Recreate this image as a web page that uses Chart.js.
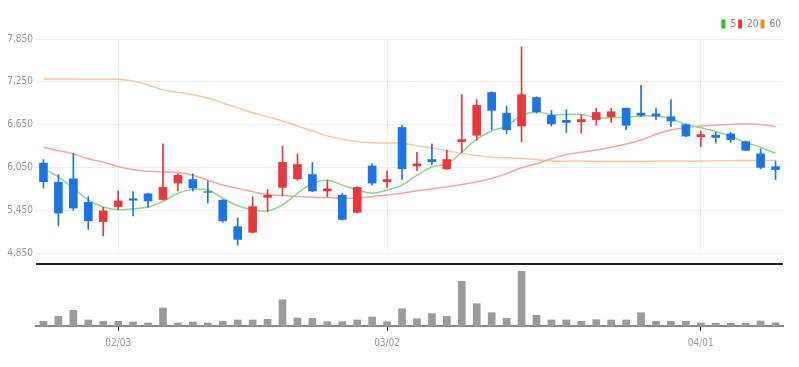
<!DOCTYPE html>
<html>
<head>
<meta charset="utf-8">
<script src="https://cdn.jsdelivr.net/npm/chart.js@4.4.1/dist/chart.umd.min.js"></script>
<style>
  body { margin: 0; background: #fff; }
  #wrap { position: relative; width: 799px; height: 367px; background: #fff; }
  #price { position: absolute; left: 0; top: 0; }
  #axisLine { position: absolute; left: 36px; top: 263px; width: 747px; height: 2px; background: #222; }
  #volume { position: absolute; left: 0; top: 265px; }
</style>
</head>
<body>
<div id="wrap">
  <canvas id="price" width="799" height="262"></canvas>
  <div id="axisLine"></div>
  <canvas id="volume" width="799" height="102"></canvas>
</div>
<script>
// trading days (2022)
const dates = ['01/24','01/25','01/26','01/27','01/28','02/03','02/04','02/07','02/08','02/09',
  '02/10','02/11','02/14','02/15','02/16','02/17','02/18','02/21','02/22','02/23',
  '02/24','02/25','02/28','03/02','03/03','03/04','03/07','03/08','03/10','03/11',
  '03/14','03/15','03/16','03/17','03/18','03/21','03/22','03/23','03/24','03/25',
  '03/28','03/29','03/30','03/31','04/01','04/04','04/05','04/06','04/07','04/08'];
const monthTicks = ['02/03', '03/02', '04/01'];

const opens  = [6110,5840,5890,5560,5290,5500,5610,5680,5600,5830,5880,5710,5590,5220,5140,5630,5770,5890,5950,5720,
                5660,5420,6070,5850,6610,6070,6160,6030,6410,6500,7100,6810,6630,7030,6780,6710,6690,6720,6760,6880,
                6810,6800,6760,6650,6480,6500,6520,6410,6240,6060];
const closes = [5850,5410,5480,5300,5440,5580,5590,5580,5770,5940,5760,5700,5300,5040,5500,5660,6120,6090,5720,5750,
                5320,5770,5830,5880,6030,6100,6130,6160,6440,6920,6850,6580,7070,6830,6660,6680,6720,6820,6830,6640,
                6780,6770,6700,6490,6510,6470,6440,6290,6050,6020];
const highs  = [6160,5950,6250,5640,5490,5720,5710,5690,6380,5960,5960,5860,5600,5340,5640,5740,6350,6240,6120,5870,
                5690,5780,6100,6000,6640,6260,6380,6290,7070,7000,7110,6910,7740,7040,6850,6860,6790,6880,6880,6880,
                7200,6880,7000,6660,6560,6540,6540,6420,6310,6140];
const lows   = [5760,5230,5450,5180,5090,5460,5370,5490,5590,5720,5720,5550,5280,4960,5130,5430,5650,5870,5710,5640,
                5310,5410,5800,5770,5880,6000,6090,6020,6260,6430,6580,6520,6410,6810,6630,6540,6530,6640,6680,6580,
                6760,6720,6620,6480,6340,6390,6400,6290,6030,5880];

const ma5  = [6032,5917,5756,5595,5494,5457,5471,5494,5572,5687,5742,5733,5618,5512,5457,5443,5526,5687,5825,5871,
              5802,5733,5687,5733,5802,5940,6055,6101,6262,6446,6561,6630,6780,6828,6792,6792,6792,6746,6746,6755,
              6769,6769,6732,6653,6607,6552,6483,6400,6331,6248];
const ma20 = [6331,6285,6239,6170,6124,6064,6018,5995,5986,5977,5940,5871,5802,5756,5710,5671,5655,5641,5632,5627,
              5618,5618,5641,5664,5687,5724,5747,5779,5811,5848,5894,5963,6044,6101,6170,6230,6262,6294,6331,6377,
              6433,6515,6575,6607,6630,6640,6653,6663,6653,6621];
const ma60 = [7289,7289,7289,7285,7285,7285,7261,7206,7137,7104,7068,7022,6953,6884,6815,6762,6700,6630,6561,6492,
              6446,6414,6396,6391,6387,6354,6322,6285,6248,6216,6193,6184,6175,6157,6138,6138,6138,6134,6134,6134,
              6134,6138,6138,6138,6138,6143,6143,6147,6147,6147];

// volume, thousand shares
const volumes = [94,194,314,120,94,94,80,60,360,60,80,60,94,120,120,134,526,160,154,86,
                 86,120,180,86,346,146,246,194,894,446,266,154,1094,214,120,120,94,126,120,120,
                 266,94,94,94,60,54,54,54,100,66];

const UP = '#e8383d', DOWN = '#1a76e6';
const font = { size: 10, family: "'Liberation Sans Narrow', 'DejaVu Sans Condensed', 'Roboto Condensed', 'Liberation Sans', Arial, sans-serif" };
const legendColors = ['#2fb92f', '#ee3a3a', '#f0932f'];

const candleColors = closes.map((c, i) => c >= opens[i] ? UP : DOWN);
const bodies = closes.map((c, i) => [opens[i], c]);
const wicks = highs.map((h, i) => [lows[i], h]);

const ctx1 = document.getElementById('price').getContext('2d');
const price = new Chart(ctx1, {
  type: 'bar',
  data: {
    labels: dates,
    datasets: [
      { type: 'line', label: '5', data: ma5, borderColor: '#8fd88a', borderWidth: 1.5, pointRadius: 0, tension: 0.4, order: 2 },
      { type: 'line', label: '20', data: ma20, borderColor: '#f4a5a5', borderWidth: 1.5, pointRadius: 0, tension: 0.4, order: 2 },
      { type: 'line', label: '60', data: ma60, borderColor: '#f8c89c', borderWidth: 1.5, pointRadius: 0, tension: 0.4, order: 2 },
      { label: 'wick', data: wicks, backgroundColor: candleColors, barThickness: 1, grouped: false, order: 1 },
      { label: 'body', data: bodies, backgroundColor: candleColors, barThickness: 8, grouped: false, order: 0 }
    ]
  },
  options: {
    responsive: false,
    animation: false,
    layout: { padding: { top: 17, right: 16, bottom: 5, left: 0 } },
    plugins: {
      legend: {
        position: 'top',
        align: 'end',
        labels: {
          boxWidth: 4, boxHeight: 9, padding: 2, font: font, color: '#888',
          generateLabels: chart => Chart.defaults.plugins.legend.labels.generateLabels(chart)
            .filter(l => l.datasetIndex < 3)
            .map(l => Object.assign(l, { fillStyle: legendColors[l.datasetIndex], strokeStyle: legendColors[l.datasetIndex], lineWidth: 0 }))
        }
      },
      tooltip: { enabled: false }
    },
    scales: {
      x: {
        grid: { offset: false, drawTicks: false, color: c => monthTicks.includes(dates[c.index]) ? '#eeeeee' : 'rgba(0,0,0,0)' },
        ticks: { display: false, autoSkip: false },
        border: { display: false },
        afterFit: s => { s.height = 0; }
      },
      y: {
        min: 4850, max: 7850,
        ticks: { stepSize: 600, padding: 3, color: '#999', font: font, callback: v => v.toLocaleString('en-US') },
        grid: { color: '#eeeeee', drawTicks: false },
        border: { display: false },
        afterFit: s => { s.width = 36; }
      }
    }
  }
});

const ctx2 = document.getElementById('volume').getContext('2d');
const volume = new Chart(ctx2, {
  type: 'bar',
  data: {
    labels: dates,
    datasets: [{ label: 'volume', data: volumes, backgroundColor: '#9b9b9b', barThickness: 7 }]
  },
  options: {
    responsive: false,
    animation: false,
    layout: { padding: { top: 5, right: 16, bottom: 11, left: 36 } },
    plugins: { legend: { display: false }, tooltip: { enabled: false } },
    scales: {
      x: {
        grid: { offset: false, drawOnChartArea: false, tickLength: 5, color: c => monthTicks.includes(dates[c.index]) ? '#333' : 'rgba(0,0,0,0)' },
        border: { color: '#888', width: 2 },
        ticks: { autoSkip: false, maxRotation: 0, padding: 6, color: '#999', font: font,
                 callback: (v, i) => monthTicks.includes(dates[i]) ? dates[i] : '' },
        afterFit: s => { s.height = 30; }
      },
      y: { display: false, min: 0, max: 1120 }
    }
  }
});
</script>
</body>
</html>
